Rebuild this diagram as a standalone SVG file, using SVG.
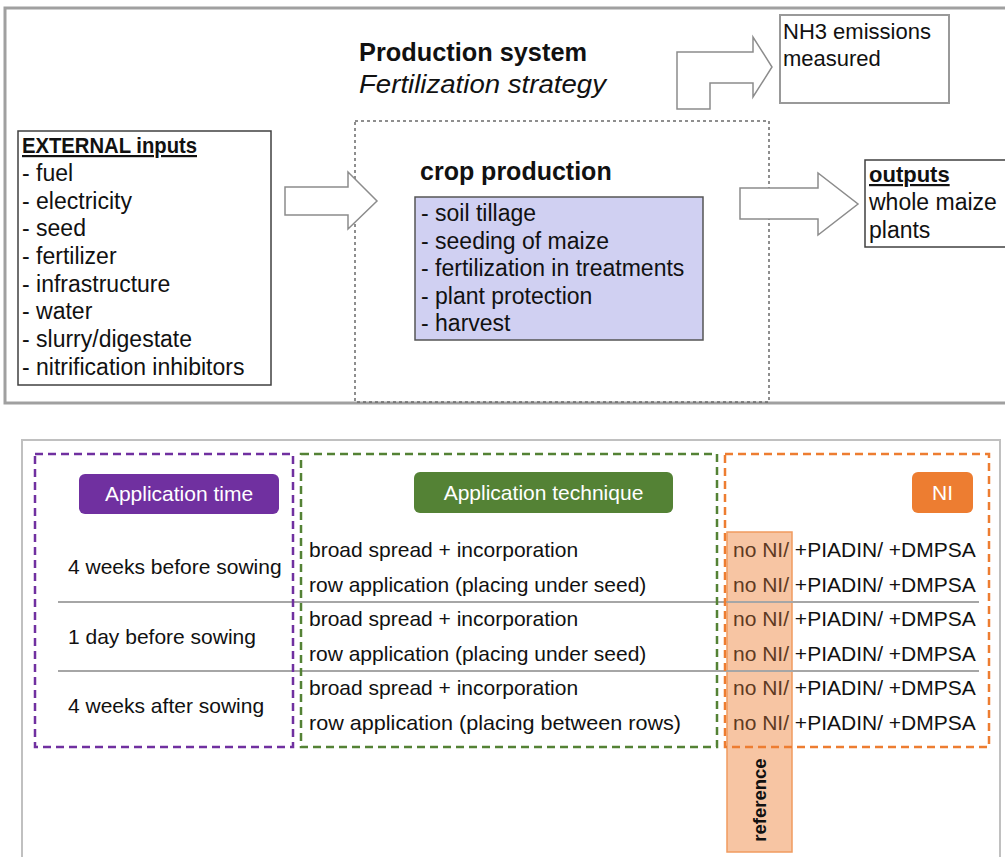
<svg xmlns="http://www.w3.org/2000/svg" width="1005" height="857" viewBox="0 0 1005 857">
<style>
text{font-family:"Liberation Sans",Arial,sans-serif;fill:#111}
.t23{font-size:23px}
.t22{font-size:22px}
.t21{font-size:21px}
.b{font-weight:bold}
.u{text-decoration:underline}
.box{fill:#fff;stroke:#404040;stroke-width:1.5}
.arr{fill:#fff;stroke:#8c8c8c;stroke-width:1.5}
.pill{fill:#fff;font-size:21px}
.sep{stroke:#a6a6a6;stroke-width:2}
.no{fill:#5e3a22}
</style>
<rect width="1005" height="857" fill="#fff"/>
<g id="frames">
<rect x="5" y="8" width="1010" height="395" fill="none" stroke="#a0a0a0" stroke-width="3"/>
<rect x="22" y="440" width="978" height="430" fill="none" stroke="#c0c0c0" stroke-width="2"/>
</g>
<g id="title">
<text x="359" y="61" class="b" font-size="25" textLength="228" lengthAdjust="spacingAndGlyphs">Production system</text>
<text x="359" y="93" font-size="26" font-style="italic" textLength="247" lengthAdjust="spacingAndGlyphs">Fertilization strategy</text>
</g>
<g id="external-inputs">
<rect x="18" y="131" width="253" height="254" class="box"/>
<text x="22" y="153" class="t22 b u" textLength="175" lengthAdjust="spacingAndGlyphs">EXTERNAL inputs</text>
<text class="t23" x="22">
<tspan x="22" y="181">- fuel</tspan>
<tspan x="22" y="208.5">- electricity</tspan>
<tspan x="22" y="236">- seed</tspan>
<tspan x="22" y="264">- fertilizer</tspan>
<tspan x="22" y="291.5">- infrastructure</tspan>
<tspan x="22" y="319">- water</tspan>
<tspan x="22" y="347">- slurry/digestate</tspan>
<tspan x="22" y="374.5">- nitrification inhibitors</tspan>
</text>
</g>
<g id="crop-production">
<rect x="355" y="121" width="414" height="281" fill="none" stroke="#6a6a6a" stroke-width="1.5" stroke-dasharray="3 3"/>
<text x="420" y="180" class="b" font-size="25">crop production</text>
</g>
<g id="activities">
<rect x="415" y="197" width="288" height="143" fill="#d0d0f2" stroke="#555" stroke-width="1.5"/>
<text class="t23">
<tspan x="421" y="221">- soil tillage</tspan>
<tspan x="421" y="248.5">- seeding of maize</tspan>
<tspan x="421" y="276">- fertilization in treatments</tspan>
<tspan x="421" y="303.5">- plant protection</tspan>
<tspan x="421" y="331">- harvest</tspan>
</text>
</g>
<g id="nh3">
<rect x="780" y="15" width="169" height="88" fill="#fff" stroke="#999" stroke-width="2"/>
<text class="t22"><tspan x="783" y="39">NH3 emissions</tspan><tspan x="783" y="66">measured</tspan></text>
</g>
<g id="outputs">
<rect x="865" y="160" width="160" height="87" class="box"/>
<text x="869" y="182" class="t22 b u">outputs</text>
<text class="t23"><tspan x="869" y="210">whole maize</tspan><tspan x="869" y="237.5">plants</tspan></text>
</g>
<g id="connectors">
<polygon class="arr" points="285,187 348,187 348,172 377,201 348,229 348,215 285,215"/>
<polygon class="arr" points="740,188 818,188 818,173 858,204 818,235 818,219 740,219"/>
<polygon class="arr" points="677,109 677,52 753,52 753,37 772,67 753,97 753,83 710,83 710,109"/>
</g>
<g id="reference-band">
<rect x="727" y="532" width="65" height="320" fill="#f7c5a3" stroke="#f19b5f" stroke-width="1.5"/>
</g>
<g id="separators">
<line x1="58" y1="602" x2="979" y2="602" class="sep"/>
<line x1="58" y1="671" x2="979" y2="671" class="sep"/>
</g>
<g id="application-time">
<rect x="35" y="454" width="258" height="293" fill="none" stroke="#7030a0" stroke-width="2.5" stroke-dasharray="8 5"/>
<rect x="79" y="474" width="200" height="40" rx="6" fill="#7030a0"/>
<text x="179" y="501" class="pill" text-anchor="middle">Application time</text>
<text class="t21"><tspan x="68" y="574">4 weeks before sowing</tspan><tspan x="68" y="644">1 day before sowing</tspan><tspan x="68" y="713">4 weeks after sowing</tspan></text>
</g>
<g id="application-technique">
<rect x="301" y="454" width="416" height="293" fill="none" stroke="#548235" stroke-width="2.5" stroke-dasharray="8 5"/>
<rect x="414" y="472" width="259" height="41" rx="6" fill="#548235"/>
<text x="543.5" y="500" class="pill" text-anchor="middle">Application technique</text>
<text class="t21">
<tspan x="309" y="557">broad spread + incorporation</tspan>
<tspan x="309" y="592">row application (placing under seed)</tspan>
<tspan x="309" y="626">broad spread + incorporation</tspan>
<tspan x="309" y="661">row application (placing under seed)</tspan>
<tspan x="309" y="695">broad spread + incorporation</tspan>
<tspan x="309" y="730" textLength="372" lengthAdjust="spacingAndGlyphs">row application (placing between rows)</tspan>
</text>
</g>
<g id="ni">
<rect x="725" y="454" width="264" height="293" fill="none" stroke="#ed7d31" stroke-width="2.5" stroke-dasharray="8 5"/>
<rect x="912" y="472" width="61" height="41" rx="6" fill="#ed7d31"/>
<text x="942.5" y="500" class="pill" text-anchor="middle">NI</text>
<text class="t21">
<tspan x="733" y="557" class="no">no NI/</tspan><tspan> +PIADIN/ +DMPSA</tspan>
<tspan x="733" y="592" class="no">no NI/</tspan><tspan> +PIADIN/ +DMPSA</tspan>
<tspan x="733" y="626" class="no">no NI/</tspan><tspan> +PIADIN/ +DMPSA</tspan>
<tspan x="733" y="661" class="no">no NI/</tspan><tspan> +PIADIN/ +DMPSA</tspan>
<tspan x="733" y="695" class="no">no NI/</tspan><tspan> +PIADIN/ +DMPSA</tspan>
<tspan x="733" y="730" class="no">no NI/</tspan><tspan> +PIADIN/ +DMPSA</tspan>
</text>
</g>
<g id="reference">
<text x="0" y="0" class="b" font-size="18.5" text-anchor="middle" transform="translate(766,800) rotate(-90)">reference</text>
</g>
</svg>
